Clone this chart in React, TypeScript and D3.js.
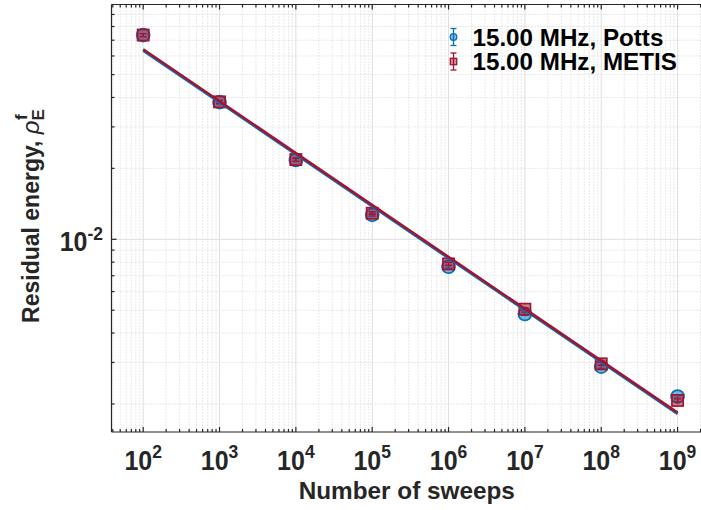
import React from 'react';
import * as d3 from 'd3';

// ---- data ----
const sweeps = [1e2, 1e3, 1e4, 1e5, 1e6, 1e7, 1e8, 1e9];
const pottsValues = [0.0736, 0.0382, 0.0217, 0.0127, 0.00765, 0.00482, 0.00288, 0.00215];
const metisValues = [0.0736, 0.0383, 0.0218, 0.0129, 0.00786, 0.00505, 0.00296, 0.00207];
const pottsErrors = [0.0011, 0.0006, 0.00032, 0.00019, 0.00011, 0.00007, 0.000045, 0.000032];
const metisErrors = [0.0011, 0.0006, 0.00033, 0.00019, 0.00012, 0.000075, 0.000045, 0.000031];
const fitSweeps = [1e2, 1e9];
const pottsFit = [0.06324, 0.001814];
const metisFit = [0.06405, 0.001837];
const xTickExponents = [2, 3, 4, 5, 6, 7, 8, 9];
const yTickExponents = [-2];
const legendLabels = ['15.00 MHz, Potts', '15.00 MHz, METIS'];
const xLabel = 'Number of sweeps';
const yLabelMain = 'Residual energy, ';

// ---- layout ----
const W = 701;
const H = 510;
const plot = { left: 111.5, top: 4.5, right: 702, bottom: 432 };
const BLUE = '#0072BD';
const RED = '#A2142F';
const AXIS = '#262626';
const FONT = '"Liberation Sans", Arial, Helvetica, sans-serif';

const x = d3.scaleLog().domain([Math.pow(10, 1.585), Math.pow(10, 9.32)]).range([plot.left, plot.right]);
const y = d3.scaleLog().domain([Math.pow(10, -2.818), Math.pow(10, -1.0034)]).range([plot.bottom, plot.top]);

function minorValues(domain: number[], kFrom: number, kTo: number) {
  const out: number[] = [];
  for (let k = kFrom; k <= kTo; k++) {
    for (let m = 2; m <= 9; m++) {
      const v = m * Math.pow(10, k);
      if (v >= domain[0] && v <= domain[1]) out.push(v);
    }
  }
  return out;
}

export default function App() {
  const xd = x.domain();
  const yd = y.domain();
  const xMinor = minorValues(xd, 1, 9);
  const yMinor = minorValues(yd, -3, -2);
  const xMajor = d3.range(1, 10).map((k) => Math.pow(10, k)).filter((v) => v >= xd[0] && v <= xd[1]);
  const yMajor = [-3, -2, -1].map((k) => Math.pow(10, k)).filter((v) => v >= yd[0] && v <= yd[1]);

  const line = d3
    .line<[number, number]>()
    .x((d) => x(d[0]))
    .y((d) => y(d[1]));

  const series = [
    { values: pottsValues, errors: pottsErrors, color: BLUE, shape: 'circle', fit: pottsFit },
    { values: metisValues, errors: metisErrors, color: RED, shape: 'square', fit: metisFit },
  ];

  const majLen = 5;
  const minLen = 3;

  return (
    <svg width={W} height={H} style={{ position: 'absolute', left: 0, top: 0, background: '#fff' }} fontFamily={FONT}>
      <defs>
        <clipPath id="plotclip">
          <rect x={plot.left} y={plot.top} width={plot.right - plot.left} height={plot.bottom - plot.top} />
        </clipPath>
      </defs>
      <rect x={0} y={0} width={W} height={H} fill="#fff" />
      {/* minor grid */}
      <g stroke="#c9c9c9" strokeWidth={0.8} strokeDasharray="1 2">
        {xMinor.map((v, i) => (
          <line key={'xm' + i} x1={x(v)} x2={x(v)} y1={plot.top} y2={plot.bottom} />
        ))}
        {yMinor.map((v, i) => (
          <line key={'ym' + i} x1={plot.left} x2={plot.right} y1={y(v)} y2={y(v)} />
        ))}
      </g>
      {/* major grid */}
      <g stroke="#dedede" strokeWidth={1}>
        {xMajor.map((v, i) => (
          <line key={'xg' + i} x1={x(v)} x2={x(v)} y1={plot.top} y2={plot.bottom} />
        ))}
        {yMajor.map((v, i) => (
          <line key={'yg' + i} x1={plot.left} x2={plot.right} y1={y(v)} y2={y(v)} />
        ))}
      </g>

      {/* data */}
      <g clipPath="url(#plotclip)">
        {series.map((s, si) => (
          <g key={'s' + si}>
            {s.values.map((v, i) => {
              const cx = x(sweeps[i]);
              const cy = y(v);
              const yl = y(v - s.errors[i]);
              const yh = y(v + s.errors[i]);
              return (
                <g key={i}>
                  {s.shape === 'circle' ? (
                    <circle cx={cx} cy={cy} r={6.5} fill={s.color} fillOpacity={0.5} stroke={s.color} strokeWidth={1.7} />
                  ) : (
                    <rect x={cx - 5.6} y={cy - 5.6} width={11.2} height={11.2} fill={s.color} fillOpacity={0.5} stroke={s.color} strokeWidth={1.7} />
                  )}
                  <g stroke={s.color} strokeWidth={1.3}>
                    <line x1={cx} x2={cx} y1={yl} y2={yh} />
                    <line x1={cx - 3.5} x2={cx + 3.5} y1={yl} y2={yl} />
                    <line x1={cx - 3.5} x2={cx + 3.5} y1={yh} y2={yh} />
                  </g>
                </g>
              );
            })}
          </g>
        ))}
        {series.map((s, si) => (
          <path
            key={'f' + si}
            d={line(fitSweeps.map((xv, i) => [xv, s.fit[i]] as [number, number])) || ''}
            fill="none"
            stroke={s.color}
            strokeWidth={2.6}
          />
        ))}
      </g>

      {/* axes */}
      <g stroke={AXIS} strokeWidth={1.2} fill="none">
        <line x1={plot.left} x2={plot.right} y1={plot.bottom} y2={plot.bottom} />
        <line x1={plot.left} x2={plot.right} y1={plot.top} y2={plot.top} />
        <line x1={plot.left} x2={plot.left} y1={plot.top} y2={plot.bottom} />
        <line x1={plot.right} x2={plot.right} y1={plot.top} y2={plot.bottom} />
        {xMajor.map((v, i) => (
          <g key={'xt' + i}>
            <line x1={x(v)} x2={x(v)} y1={plot.bottom} y2={plot.bottom - majLen} />
            <line x1={x(v)} x2={x(v)} y1={plot.top} y2={plot.top + majLen} />
          </g>
        ))}
        {xMinor.map((v, i) => (
          <g key={'xmt' + i}>
            <line x1={x(v)} x2={x(v)} y1={plot.bottom} y2={plot.bottom - minLen} />
            <line x1={x(v)} x2={x(v)} y1={plot.top} y2={plot.top + minLen} />
          </g>
        ))}
        {yMajor.map((v, i) => (
          <line key={'yt' + i} x1={plot.left} x2={plot.left + majLen} y1={y(v)} y2={y(v)} />
        ))}
        {yMinor.map((v, i) => (
          <line key={'ymt' + i} x1={plot.left} x2={plot.left + minLen} y1={y(v)} y2={y(v)} />
        ))}
      </g>

      {/* x tick labels */}
      <g fill={AXIS} fontWeight="bold">
        {xTickExponents.map((e) => (
          <text
            key={'xl' + e}
            transform={`translate(${x(Math.pow(10, e))}, 469.5) scale(1, 1.1)`}
            textAnchor="middle"
            fontSize={25}
          >
            10
            <tspan fontSize={17.5} dy={-10.5}>
              {e}
            </tspan>
          </text>
        ))}
        {yTickExponents.map((e) => (
          <text
            key={'yl' + e}
            transform={`translate(103, ${y(Math.pow(10, e)) + 12}) scale(1, 1.1)`}
            textAnchor="end"
            fontSize={25}
          >
            10
            <tspan fontSize={17.5} dy={-10.5}>
              {'-' + Math.abs(e)}
            </tspan>
          </text>
        ))}
      </g>

      {/* axis labels */}
      <text x={(plot.left + plot.right) / 2} y={498.5} textAnchor="middle" fontSize={24.3} fontWeight="bold" fill={AXIS}>
        {xLabel}
      </text>
      <text
        transform={`translate(38.5, 216) rotate(-90)`}
        textAnchor="middle"
        fontSize={23}
        fontWeight="bold"
        fill={AXIS}
      >
        <tspan>{yLabelMain}</tspan>
        <tspan fontStyle="italic" fontWeight="normal" fontSize={24}>
          ρ
        </tspan>
        <tspan fontSize={17} dy={5}>
          E
        </tspan>
        <tspan fontSize={17} dx={-11} dy={-17}>
          f
        </tspan>
      </text>

      {/* legend */}
      {series.map((s, i) => {
        const ly = 37 + i * 24.5;
        const lx = 453.5;
        return (
          <g key={'lg' + i}>
            <g stroke={s.color} strokeWidth={1.3}>
              <line x1={lx} x2={lx} y1={ly - 8.5} y2={ly + 8.5} />
              <line x1={lx - 3} x2={lx + 3} y1={ly - 8.5} y2={ly - 8.5} />
              <line x1={lx - 3} x2={lx + 3} y1={ly + 8.5} y2={ly + 8.5} />
            </g>
            {s.shape === 'circle' ? (
              <circle cx={lx} cy={ly} r={3.3} fill={s.color} fillOpacity={0.5} stroke={s.color} strokeWidth={1.3} />
            ) : (
              <rect x={lx - 3.2} y={ly - 3.2} width={6.4} height={6.4} fill={s.color} fillOpacity={0.5} stroke={s.color} strokeWidth={1.3} />
            )}
            <text x={472.5} y={ly + 8.7} fontSize={24.2} fontWeight="bold" fill="#000">
              {legendLabels[i]}
            </text>
          </g>
        );
      })}
    </svg>
  );
}
